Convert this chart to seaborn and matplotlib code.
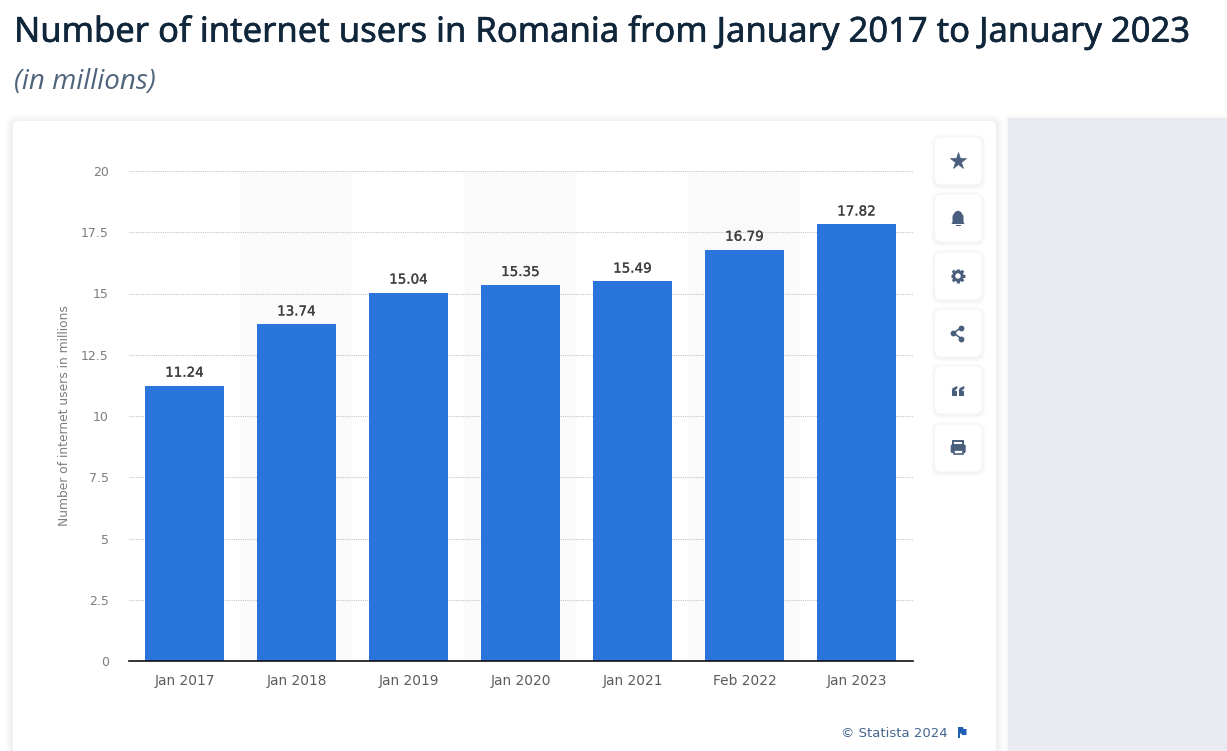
import math
import matplotlib
matplotlib.use("Agg")
import matplotlib.pyplot as plt
import matplotlib.patheffects as pe
from matplotlib.patches import FancyBboxPatch, Rectangle, Polygon, Circle
import seaborn as sns
import pandas as pd

categories = ["Jan 2017", "Jan 2018", "Jan 2019", "Jan 2020", "Jan 2021", "Feb 2022", "Jan 2023"]
users = [11.24, 13.74, 15.04, 15.35, 15.49, 16.79, 17.82]
y_ticks = [0, 2.5, 5, 7.5, 10, 12.5, 15, 17.5, 20]
y_labels = ["0", "2.5", "5", "7.5", "10", "12.5", "15", "17.5", "20"]
title = "Number of internet users in Romania from January 2017 to January 2023"
subtitle = "(in millions)"
y_title = "Number of internet users in millions"
credit = "© Statista 2024"

W, H = 1227, 751
BLUE = "#2a75dc"
ICON = "#4a5f7d"

sns.set_theme(style="white")
fig = plt.figure(figsize=(W / 100, H / 100), dpi=100, facecolor="white")

# page layer, in pixel coordinates
bg = fig.add_axes([0, 0, 1, 1], zorder=0)
bg.set_xlim(0, W)
bg.set_ylim(H, 0)
bg.axis("off")


def soft_box(ax, x0, y0, x1, y1, r, spread, alpha, z=1):
    for s in range(spread, 0, -1):
        ax.add_patch(FancyBboxPatch((x0 - s, y0 - s + 1), x1 - x0 + 2 * s, y1 - y0 + 2 * s,
                                    boxstyle=f"round,pad=0,rounding_size={r + s}",
                                    fc="#707070", ec="none", alpha=alpha, zorder=z))
    ax.add_patch(FancyBboxPatch((x0, y0), x1 - x0, y1 - y0,
                                boxstyle=f"round,pad=0,rounding_size={r}",
                                fc="white", ec="none", zorder=z + 0.1))


# main card and grey side panel
soft_box(bg, 13, 121, 996, 790, 5, 8, 0.008)
bg.add_patch(Rectangle((1008, 118), W - 1008, H - 118, fc="#e9ebf0", ec="none", zorder=1.5))
for s in range(1, 5):
    bg.add_patch(Rectangle((1008 - s, 118 - s), W - 1008 + s, H - 118 + s,
                           fc="#707070", ec="none", alpha=0.012, zorder=1.4))

# alternating column bands
for i in (1, 3, 5):
    bg.add_patch(Rectangle((128 + 112 * i, 171), 112, 490, fc="#fafafa", ec="none", zorder=2))

# chart
ax = fig.add_axes([128.5 / W, 1 - 661 / H, 784 / W, 490 / H], zorder=2)
ax.patch.set_alpha(0)
df = pd.DataFrame({"period": categories, "users": users})
sns.barplot(data=df, x="period", y="users", color=BLUE, saturation=1, width=0.7,
            linewidth=0, ax=ax, zorder=3)
ax.set_xlim(-0.5, 6.5)
ax.set_ylim(0, 20)
ax.set_yticks(y_ticks, y_labels)
ax.yaxis.grid(True, color="#c4c7ca", linestyle=(0, (1, 1)), linewidth=0.8)
ax.xaxis.grid(False)
ax.set_axisbelow(True)
for name in ("top", "left", "right"):
    ax.spines[name].set_visible(False)
ax.spines["bottom"].set_color("#111111")
ax.spines["bottom"].set_linewidth(1.2)
ax.spines["bottom"].set_zorder(6)
ax.tick_params(axis="y", length=0, pad=14.2, labelsize=9.0, labelcolor="#7d7d7d")
ax.tick_params(axis="x", length=0, pad=9.3, labelsize=9.9, labelcolor="#5c5c5c")
for lab in ax.get_xticklabels() + ax.get_yticklabels():
    lab.set_family("DejaVu Sans")
ax.set_xlabel("")
ax.set_ylabel("")
for c in ax.containers:
    for t in ax.bar_label(c, fmt="%.2f", padding=4.3, fontsize=9.7, color="#3f3f3f",
                          family="DejaVu Sans"):
        t.set_path_effects([pe.withStroke(linewidth=0.2, foreground="#3f3f3f")])

# page texts
t = fig.text(14 / W, 1 - 32.5 / H, title, family="Noto Sans", fontsize=24.9, color="#10263b",
             va="center", ha="left", zorder=5)
t.set_path_effects([pe.withStroke(linewidth=0.4, foreground="#10263b")])
fig.text(14 / W, 1 - 82 / H, subtitle, family="Open Sans", style="italic", fontsize=20,
         color="#50647c", va="center", ha="left", zorder=5)
fig.text(64 / W, 1 - 415.5 / H, y_title, rotation=90, family="DejaVu Sans", fontsize=8.85,
         color="#7d7d7d", va="center", ha="center", zorder=5)
fig.text(948 / W, 1 - 733.5 / H, credit, family="DejaVu Sans", fontsize=9.5, color="#44658f",
         va="center", ha="right", zorder=5)

# flag next to the credit
bg.add_patch(Rectangle((958, 727), 1.6, 11, fc="#1f5fb4", ec="none", zorder=4))
bg.add_patch(Polygon([(958, 727), (963, 727), (963.5, 729), (966.5, 729), (966.5, 735), (962, 735),
                      (961.5, 733.5), (958, 733.5)], fc="#1f5fb4", ec="none", zorder=4))

# toolbar buttons
centers = [161, 218, 276, 333, 390, 448]
for cy in centers:
    soft_box(bg, 935, cy - 23.5, 981.5, cy + 23.5, 6, 4, 0.016, z=3)
z = 5
cx = 958
# star
bg.plot([cx], [161], marker="*", ms=12.5, color=ICON, mec=ICON, mew=0.5, zorder=z)
# bell
bg.add_patch(Polygon([(951.5, 224), (952.5, 222), (952.5, 216), (955, 212), (958, 210.5), (961, 212),
                      (963.5, 216), (963.5, 222), (964.5, 224)], fc=ICON, ec="none", zorder=z))
bg.add_patch(Rectangle((955.5, 225), 5, 1.4, fc=ICON, ec="none", zorder=z))
# gear
for k in range(8):
    a = math.pi * k / 4
    bg.plot([cx, cx + 7.4 * math.cos(a)], [276, 276 + 7.4 * math.sin(a)], color=ICON, lw=2.2,
            solid_capstyle="butt", zorder=z)
bg.add_patch(Circle((cx, 276), 5.8, fc=ICON, ec="none", zorder=z))
bg.add_patch(Circle((cx, 276), 2.7, fc="white", ec="none", zorder=z + 0.1))
# share
bg.plot([961.3, 953.3, 961.3], [327.7, 333, 338.5], color=ICON, lw=1.1, zorder=z)
bg.plot([961.3, 953.3, 961.3], [327.7, 333, 338.5], ls="none", marker="o", ms=4.2, color=ICON,
        mec=ICON, mew=0, zorder=z)
# quote
for qx in (951.7, 958.7):
    bg.add_patch(Rectangle((qx, 390.5), 5.7, 5.5, fc=ICON, ec="none", zorder=z))
    bg.add_patch(Polygon([(qx, 391), (qx + 1, 388), (qx + 5.7, 386), (qx + 5.7, 388.3), (qx + 3, 391)],
                         fc=ICON, ec="none", zorder=z))
# printer
bg.add_patch(Rectangle((953, 441), 10, 4, fc="white", ec=ICON, lw=1.4, zorder=z))
bg.add_patch(FancyBboxPatch((950.7, 444.5), 15, 8.5, boxstyle="round,pad=0,rounding_size=1.5",
                            fc=ICON, ec="none", zorder=z))
bg.add_patch(Rectangle((953.5, 449.5), 9, 4.5, fc="white", ec=ICON, lw=1.2, zorder=z + 0.1))

fig.savefig("out.png", dpi=100, facecolor="white")
